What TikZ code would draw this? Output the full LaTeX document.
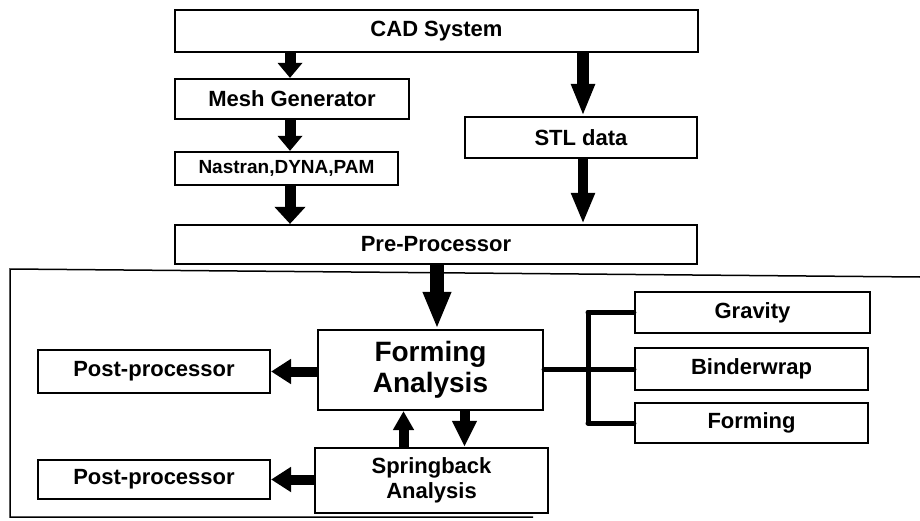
\documentclass[tikz,border=0pt]{standalone}
\usepackage{fontspec}
\setmainfont{Liberation Sans}
\usetikzlibrary{arrows.meta}
\tikzset{
  box/.style={draw, line width=2.2pt, inner sep=0pt, align=center, font=\fontsize{22}{22}\bfseries},
  arrS/.style={line width=11pt, -{Triangle[width=24pt,length=15pt]}},
  arrL/.style={line width=12pt, -{Triangle[width=22pt,length=32pt]}},
  arrH/.style={line width=10pt, -{Triangle[width=24pt,length=20pt]}},
  link/.style={line width=5pt, line cap=round},
  frame/.style={line width=1.5pt}
}
\begin{document}
\begin{tikzpicture}[x=1pt,y=-1pt]
\useasboundingbox (0,0) rectangle (920,521);
\node[box, minimum width=523pt, minimum height=42pt] (cad) at (436.5,31) {CAD System};
\node[box, minimum width=234pt, minimum height=40pt] (mesh) at (292,99) {Mesh Generator};
\node[box, minimum width=223pt, minimum height=33pt, font=\fontsize{19}{19}\bfseries] (nas) at (286.5,168.5) {Nastran,DYNA,PAM};
\node[box, minimum width=232pt, minimum height=41pt] (stl) at (581,137.5) {STL data};
\node[box, minimum width=522pt, minimum height=39pt] (pre) at (436,244.5) {Pre-Processor};
\node[box, minimum width=225pt, minimum height=80pt, font=\fontsize{28}{31}\bfseries] (fa) at (430.5,370) {Forming\\Analysis};
\node[box, minimum width=233pt, minimum height=65pt, font=\fontsize{22}{25}\bfseries] (sb) at (431.5,480.5) {Springback\\Analysis};
\node[box, minimum width=232pt, minimum height=43pt] (p1) at (154,371.5) {Post-processor};
\node[box, minimum width=232pt, minimum height=39pt] (p2) at (154,479.5) {Post-processor};
\node[box, minimum width=235pt, minimum height=41pt] (grav) at (752.5,312.5) {Gravity};
\node[box, minimum width=233pt, minimum height=42pt] (bw) at (751.5,369) {Binderwrap};
\node[box, minimum width=233pt, minimum height=40pt] (form) at (751.5,423) {Forming};
% frame
\coordinate (f1) at (920,277);
\coordinate (f2) at (10,269);
\coordinate (f3) at (10,517);
\coordinate (f4) at (533,517);
\draw[frame] (f1) -- (f2) -- (f3) -- (f4);
% arrows top
\draw[arrS] ([xshift=-2pt]cad.south -| mesh) -- ([xshift=-2pt]mesh.north);
\draw[arrS] ([xshift=-2pt]mesh.south) -- ([xshift=-2pt]mesh.south |- nas.north);
\draw[arrS, -{Triangle[width=30pt,length=17pt]}] ([xshift=3.5pt]nas.south) -- ([xshift=3.5pt]nas.south |- pre.north);
\draw[arrL] ([xshift=2pt]cad.south -| stl) -- ([xshift=2pt]stl.north);
\draw[arrL, line width=10pt, -{Triangle[width=22pt,length=31pt]}] ([xshift=2pt]stl.south) -- ([xshift=2pt]stl.south |- pre.north);
\draw[arrL, line width=14pt, -{Triangle[width=26pt,length=37pt]}] ([xshift=1pt]pre.south) -- ([xshift=1pt]pre.south |- fa.north);
% side arrows
\draw[arrH] (p1.east -| fa.west) -- (p1.east);
\draw[arrH] (p2.east -| sb.west) -- (p2.east);
% feedback arrows
\draw[arrH, -{Triangle[width=20pt,length=19pt]}] ([xshift=-28pt]sb.north) -- ([xshift=-28pt]sb.north |- fa.south);
\draw[arrH, -{Triangle[width=23pt,length=26pt]}] ([xshift=34pt]fa.south) -- ([xshift=34pt]fa.south |- sb.north);
% links to right boxes
\coordinate (bar) at (588,369);
\draw[link] (fa.east |- bw.west) -- (bw.west);
\draw[link] (grav.west -| bar) -- (grav.west);
\draw[link] (form.west -| bar) -- (form.west);
\draw[link] (grav.west -| bar) -- (form.west -| bar);
\end{tikzpicture}
\end{document}
